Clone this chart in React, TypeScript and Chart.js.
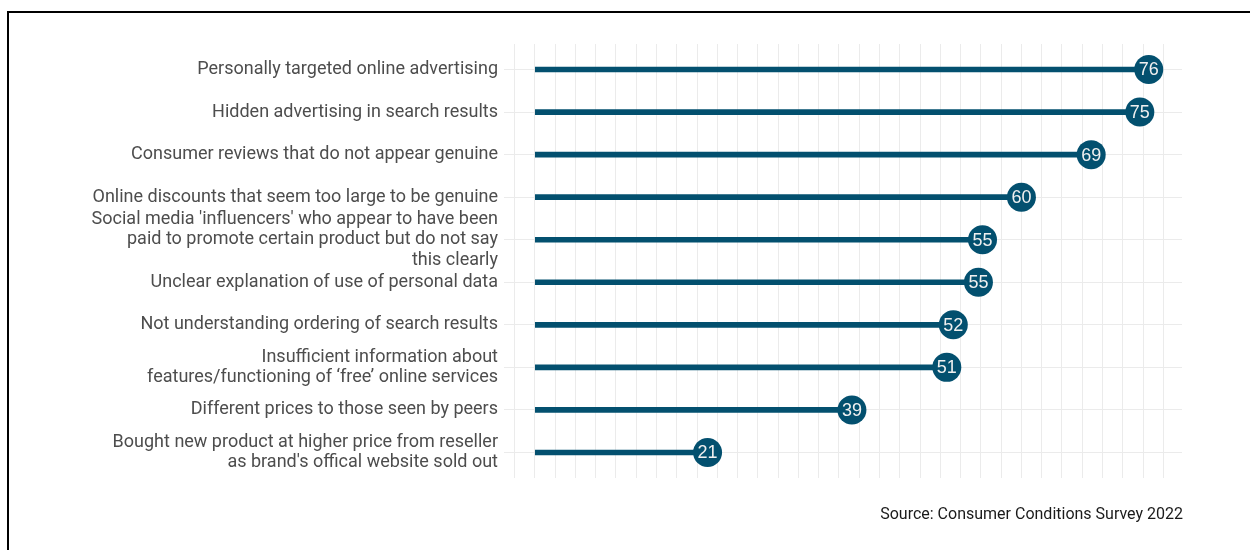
import React, { useEffect, useRef } from "react";
import { Chart, registerables } from "chart.js";

Chart.register(...registerables);

const categories: string[][] = [
  ["Personally targeted online advertising"],
  ["Hidden advertising in search results"],
  ["Consumer reviews that do not appear genuine"],
  ["Online discounts that seem too large to be genuine"],
  ["Social media 'influencers' who appear to have been", "paid to promote certain product but do not say", "this clearly"],
  ["Unclear explanation of use of personal data"],
  ["Not understanding ordering of search results"],
  ["Insufficient information about", "features/functioning of \u2018free\u2019 online services"],
  ["Different prices to those seen by peers"],
  ["Bought new product at higher price from reseller", "as brand's offical website sold out"],
];

const values: number[] = [75.7, 74.6, 68.6, 60.0, 55.2, 54.7, 51.6, 50.8, 39.1, 21.3];

const caption = "Source: Consumer Conditions Survey 2022";

const LOLLI = "#03506f";

export default function App() {
  const ref = useRef<HTMLCanvasElement | null>(null);

  useEffect(() => {
    const canvas = ref.current;
    if (!canvas) return;
    const pts = values.map((v, i) => ({ x: v, y: i }));

    const labelPlugin = {
      id: "lolliLabels",
      afterDatasetsDraw(chart: any) {
        const ctx = chart.ctx;
        const meta = chart.getDatasetMeta(1);
        ctx.save();
        ctx.font = "18px 'Liberation Sans', Arial, sans-serif";
        ctx.fillStyle = "#f0f0f0";
        ctx.textAlign = "center";
        ctx.textBaseline = "middle";
        meta.data.forEach((el: any, i: number) => {
          ctx.fillText(String(Math.round(values[i])), el.x, el.y + 1);
        });
        ctx.restore();
      },
      afterDraw(chart: any) {
        const ctx = chart.ctx;
        ctx.save();
        ctx.font = "16px Roboto, sans-serif";
        ctx.fillStyle = "#1a1a1a";
        ctx.textAlign = "right";
        ctx.textBaseline = "middle";
        ctx.fillText(caption, chart.chartArea.right + 1, 515);
        ctx.restore();
      },
    };

    const chart = new Chart(canvas, {
      type: "scatter",
      data: {
        datasets: [
          {
            type: "bar",
            indexAxis: "y",
            data: pts,
            backgroundColor: LOLLI,
            borderWidth: 0,
            barThickness: 5,
          } as any,
          {
            type: "scatter",
            data: pts,
            backgroundColor: LOLLI,
            borderWidth: 0,
            pointRadius: 14.5,
            pointHoverRadius: 14.5,
          },
        ],
      },
      options: {
        responsive: false,
        animation: false,
        events: [],
        layout: { padding: { left: 0, top: 44, right: 68, bottom: 72 } },
        plugins: {
          legend: { display: false },
          tooltip: { enabled: false },
          title: { display: false },
        },
        scales: {
          x: {
            type: "linear",
            min: -3.8,
            max: 79.8,
            offset: false,
            border: { display: false },
            grid: { color: "#ebebeb", lineWidth: 1, drawTicks: false, offset: false },
            ticks: { display: false, stepSize: 2.5, includeBounds: false, autoSkip: false },
          },
          y: {
            type: "linear",
            reverse: true,
            min: -0.6,
            max: 9.6,
            offset: false,
            border: { display: false },
            grid: { color: "#ebebeb", lineWidth: 1, drawTicks: false, offset: false },
            afterFit: (scale: any) => {
              scale.width = 504;
            },
            ticks: {
              stepSize: 1,
              includeBounds: false,
              autoSkip: false,
              padding: 6,
              color: "#4d4d4d",
              font: { family: "Roboto, sans-serif", size: 18, lineHeight: 1.15 },
              callback: (v: any) => {
                const i = Math.round(Number(v));
                return categories[i] ?? "";
              },
            },
          },
        },
      },
      plugins: [labelPlugin],
    } as any);

    return () => chart.destroy();
  }, []);

  return (
    <div style={{ position: "fixed", left: 0, top: 0, width: 1250, height: 550, overflow: "hidden", background: "#fff" }}>
      <canvas ref={ref} width={1250} height={550} style={{ display: "block", position: "absolute", left: 0, top: 0 }} />
      <div
        style={{
          position: "absolute",
          left: 7,
          top: 11,
          right: -10,
          bottom: -10,
          borderTop: "2px solid #000",
          borderLeft: "2px solid #000",
          pointerEvents: "none",
        }}
      />
    </div>
  );
}
